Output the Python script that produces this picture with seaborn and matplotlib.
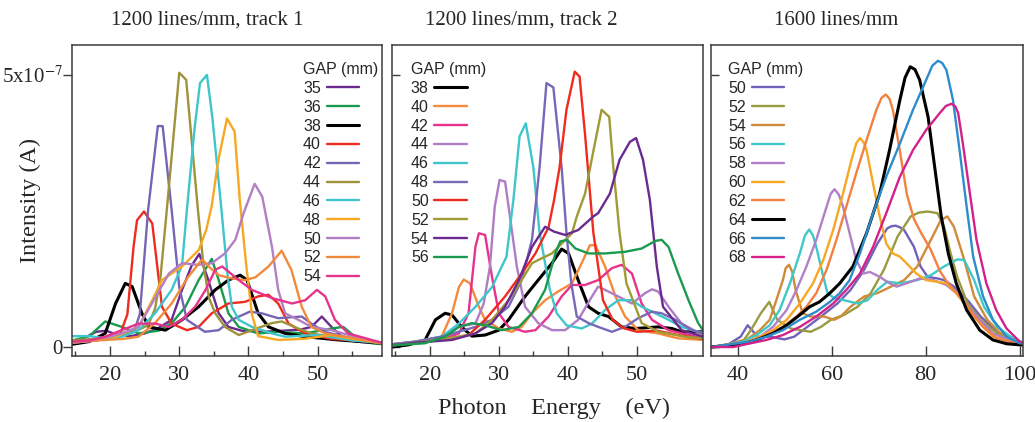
import matplotlib
matplotlib.use("Agg")
import matplotlib.pyplot as plt
import seaborn as sns

# ---------------- data (intensity in units of 1e-7 A, energy in eV) ----------------
# Panel 1: 1200 lines/mm, track 1
p1_gaps = ["35", "36", "38", "40", "42", "44", "46", "48", "50", "52", "54"]
p1_colors = ["#6b2a8f", "#1a9a4e", "#000000", "#ee2b1e", "#7665b5", "#a0923a",
             "#3fc6cc", "#f7a823", "#b27fc4", "#f28a3c", "#e6348c"]
p1_e35 = [14.5, 16, 18, 19.5, 21, 23, 25, 27, 28.9, 30.4, 31.8, 32.9, 34.2, 35.7, 37.1, 39, 42, 45, 47.5, 49.1, 50.6, 52, 53.5, 55.5, 59.5]
p1_i35 = [0.1, 0.15, 0.28, 0.3, 0.22, 0.2, 0.25, 0.35, 0.5, 1.05, 1.5, 1.71, 1.23, 0.62, 0.37, 0.3, 0.28, 0.3, 0.32, 0.37, 0.56, 0.37, 0.19, 0.1, 0.06]
p1_e36 = [14.5, 17, 19.3, 21.7, 24.1, 27, 29, 30.9, 32.8, 34.7, 35.7, 37.1, 38.6, 41.4, 44.3, 48.2, 52, 53.7, 55.4, 57.8, 59.5]
p1_i36 = [0.12, 0.2, 0.47, 0.37, 0.25, 0.3, 0.45, 0.74, 1.23, 1.62, 1.23, 0.62, 0.37, 0.25, 0.28, 0.25, 0.34, 0.37, 0.19, 0.07, 0.05]
p1_e38 = [14.5, 17, 19.3, 20.8, 22.2, 23.2, 24.6, 25.6, 28, 30.4, 32.8, 35.2, 37.1, 38.8, 39.8, 41.4, 42.9, 45.3, 48.2, 53, 59.5]
p1_i38 = [0.05, 0.1, 0.25, 0.8, 1.17, 1.11, 0.62, 0.37, 0.31, 0.5, 0.74, 1.05, 1.23, 1.32, 1.23, 0.62, 0.37, 0.25, 0.19, 0.13, 0.07]
p1_e40 = [14.5, 18, 21.5, 22.5, 23.4, 23.9, 24.9, 26.1, 27.5, 28.9, 31.1, 32.8, 34.7, 37.1, 39.5, 41.4, 42.9, 44.3, 45.8, 48.2, 52, 59.5]
p1_i40 = [0.08, 0.12, 0.25, 0.6, 1.85, 2.33, 2.49, 2.27, 0.74, 0.43, 0.31, 0.37, 0.62, 0.8, 0.83, 0.93, 0.96, 0.8, 0.43, 0.25, 0.15, 0.08]
p1_e42 = [14.5, 18, 21, 23.5, 24.3, 25.5, 26.9, 27.6, 28.9, 30.0, 31.1, 33.7, 35.7, 37.6, 40.2, 41.9, 44.3, 47.7, 49.1, 51, 53.9, 57.8, 59.5]
p1_i42 = [0.1, 0.15, 0.2, 0.3, 0.6, 2.52, 4.06, 4.06, 2.52, 1.1, 0.5, 0.28, 0.31, 0.5, 0.65, 0.62, 0.53, 0.56, 0.43, 0.28, 0.19, 0.1, 0.07]
p1_e44 = [14.5, 18, 23, 25.5, 26.5, 27.3, 28.2, 30.0, 31.0, 32.7, 33.5, 34.3, 35.2, 36.6, 38.6, 40.5, 43.4, 44.8, 47.2, 49.1, 52, 59.5]
p1_i44 = [0.12, 0.15, 0.25, 0.4, 0.7, 1.3, 2.52, 5.04, 4.91, 2.52, 1.5, 0.9, 0.62, 0.37, 0.22, 0.31, 0.44, 0.47, 0.34, 0.25, 0.19, 0.06]
p1_e46 = [14.5, 17, 20, 22, 24.1, 26.5, 28.9, 30.4, 31.1, 32.2, 33.0, 34.0, 34.8, 36.1, 37.0, 37.6, 38.6, 40.5, 43.4, 45.3, 50, 55, 59.5]
p1_i46 = [0.2, 0.2, 0.15, 0.2, 0.31, 0.62, 1.05, 1.5, 2.52, 4.0, 4.85, 5.0, 4.2, 2.52, 1.3, 0.74, 0.5, 0.37, 0.25, 0.19, 0.22, 0.12, 0.08]
p1_e48 = [14.5, 18, 21, 24.1, 26.1, 27.5, 30.4, 32.8, 33.9, 34.7, 35.6, 36.9, 38.0, 38.75, 39.7, 40.5, 41.4, 44.3, 48, 52, 55, 59.5]
p1_i48 = [0.08, 0.12, 0.2, 0.37, 0.86, 1.23, 1.48, 1.78, 2.15, 2.6, 3.4, 4.2, 3.96, 2.7, 1.48, 0.6, 0.2, 0.13, 0.15, 0.22, 0.15, 0.08]
p1_e50 = [14.5, 18, 21.7, 24.1, 26.5, 28.5, 30.4, 32.8, 34.7, 36.6, 38.1, 39.3, 40.9, 42.0, 43.4, 44.3, 45.3, 47.2, 49.1, 52, 55.4, 59.5]
p1_i50 = [0.08, 0.12, 0.25, 0.37, 0.9, 1.35, 1.54, 1.51, 1.54, 1.72, 1.97, 2.46, 3.0, 2.76, 1.84, 1.05, 0.62, 0.5, 0.37, 0.31, 0.19, 0.07]
p1_e52 = [14.5, 18, 22, 24.1, 26.5, 28.9, 31.3, 33.3, 34.5, 35.7, 37.6, 39.5, 41, 42.9, 44.8, 46.2, 47.7, 49.1, 51.1, 53.9, 57.8, 59.5]
p1_i52 = [0.1, 0.12, 0.15, 0.19, 0.44, 0.8, 1.29, 1.61, 1.45, 1.32, 1.26, 1.23, 1.28, 1.48, 1.77, 1.42, 0.74, 0.37, 0.25, 0.19, 0.1, 0.07]
p1_e54 = [14.5, 17, 19.3, 21.7, 24.1, 26.5, 28.5, 30.4, 32.3, 33.8, 35.2, 36.2, 38.6, 40.5, 43.4, 46.3, 48.2, 49.9, 51.1, 52.5, 54.4, 57.8, 59.5]
p1_i54 = [0.1, 0.12, 0.19, 0.31, 0.43, 0.43, 0.37, 0.5, 0.74, 1.05, 1.42, 1.48, 1.23, 1.05, 0.9, 0.8, 0.86, 1.05, 0.93, 0.5, 0.25, 0.13, 0.07]

# Panel 2: 1200 lines/mm, track 2
p2_gaps = ["38", "40", "42", "44", "46", "48", "50", "52", "54", "56"]
p2_colors = ["#000000", "#f58a3a", "#e8328c", "#b07cc6", "#3fc6cc", "#7868b8",
             "#ee2b1e", "#a09a35", "#6b2a8f", "#1a9a4e"]
p2_e38 = [14.5, 16.9, 19.3, 20.8, 22.2, 23.2, 24.6, 26.1, 28, 30, 31.4, 33.8, 35.7, 37.7, 39.1, 40.1, 41.5, 43, 44.4, 45.9, 47.8, 49.8, 53.1, 55.1, 56.5, 59.6]
p2_i38 = [0.0, 0.04, 0.13, 0.5, 0.62, 0.59, 0.37, 0.2, 0.22, 0.31, 0.5, 0.93, 1.23, 1.54, 1.8, 1.72, 1.23, 0.74, 0.62, 0.56, 0.37, 0.34, 0.37, 0.34, 0.28, 0.28]
p2_e40 = [14.5, 18, 21.7, 23.2, 24.2, 24.9, 25.8, 27.1, 28, 30, 31.9, 33.3, 34.8, 36.7, 38.6, 40.6, 42, 43.2, 44, 45.4, 46.9, 48.3, 50.2, 53.1, 56, 59.6]
p2_i40 = [0.05, 0.1, 0.19, 0.62, 1.1, 1.24, 1.17, 0.74, 0.5, 0.34, 0.28, 0.37, 0.62, 0.86, 1.02, 1.17, 1.54, 1.87, 1.87, 1.48, 0.93, 0.56, 0.31, 0.25, 0.16, 0.13]
p2_e42 = [14.5, 18, 22, 24.2, 25.6, 26.6, 27.1, 28, 29, 30, 31.4, 33.8, 35.3, 37.2, 39.1, 40.6, 42.5, 44.4, 46.4, 47.8, 49.3, 50.7, 52.2, 54.6, 59.6]
p2_i42 = [0.05, 0.08, 0.15, 0.25, 0.62, 1.84, 2.09, 2.06, 1.29, 0.62, 0.37, 0.28, 0.31, 0.56, 0.93, 1.14, 1.14, 1.23, 1.45, 1.51, 1.35, 0.8, 0.5, 0.31, 0.16]
p2_e44 = [14.5, 18, 21.7, 24.2, 26.6, 27.8, 28.7, 29.4, 30.1, 30.9, 31.6, 32.6, 33.8, 35.7, 37.7, 39.6, 41.5, 43.5, 44.4, 45.4, 47.3, 49.3, 51.2, 52.2, 53.1, 54.6, 56.5, 59.6]
p2_i44 = [0.05, 0.1, 0.19, 0.37, 0.43, 0.8, 1.48, 2.58, 3.07, 3.04, 2.4, 1.48, 0.74, 0.44, 0.31, 0.31, 0.5, 0.93, 1.11, 1.05, 0.93, 0.8, 0.99, 1.06, 1.02, 0.74, 0.43, 0.22]
p2_e46 = [14.5, 18, 21.7, 24.2, 26.6, 29, 31.1, 32.1, 33, 33.9, 35, 35.9, 37.4, 38.4, 39.8, 42, 43.5, 45.4, 47.3, 49.3, 50.7, 52.7, 54.6, 56.5, 58.9, 59.6]
p2_i46 = [0.05, 0.1, 0.19, 0.43, 0.74, 1.1, 1.66, 2.7, 3.87, 4.11, 3.3, 2.1, 1.05, 0.62, 0.4, 0.34, 0.43, 0.68, 0.86, 0.86, 0.74, 0.62, 0.5, 0.37, 0.28, 0.26]
p2_e48 = [14.5, 18, 21.7, 26.6, 29, 31.4, 33.3, 34.8, 35.9, 36.9, 37.9, 39.1, 39.8, 40.5, 41.3, 43, 44.4, 46.4, 48.3, 50.2, 52.2, 53.6, 55.6, 58, 59.6]
p2_i48 = [0.05, 0.1, 0.19, 0.37, 0.5, 0.74, 1.23, 1.97, 3.3, 4.85, 4.77, 3.3, 2.1, 1.17, 0.56, 0.44, 0.37, 0.28, 0.37, 0.53, 0.65, 0.62, 0.5, 0.31, 0.25]
p2_e50 = [14.5, 18, 21.7, 25.6, 28, 30.9, 33.3, 35.3, 37.2, 38.0, 38.8, 39.8, 41, 41.7, 42.5, 43.7, 45.1, 46.5, 48, 50, 53, 56, 59.6]
p2_i50 = [0.03, 0.08, 0.13, 0.22, 0.5, 0.93, 1.35, 1.72, 2.2, 2.7, 3.3, 4.36, 5.06, 4.97, 3.9, 2.1, 0.86, 0.5, 0.35, 0.28, 0.3, 0.22, 0.15]
p2_e52 = [14.5, 18, 24.2, 26.6, 29, 31.4, 33.3, 34.8, 36.2, 37.7, 39.1, 40.6, 41.3, 42.5, 43.7, 44.9, 46, 46.6, 47.5, 48.5, 50.7, 53.1, 57, 59.6]
p2_i52 = [0.03, 0.08, 0.19, 0.25, 0.5, 0.86, 1.23, 1.54, 1.63, 1.72, 1.9, 2.09, 2.4, 2.82, 3.6, 4.36, 4.23, 3.3, 2.1, 1.17, 0.44, 0.28, 0.19, 0.16]
p2_e54 = [14.5, 18, 23.2, 26.6, 29, 30.9, 32.9, 34.8, 36.7, 38, 39.6, 41.5, 43.7, 44.4, 46.1, 47.5, 49, 49.9, 50.9, 51.9, 52.9, 53.8, 56.5, 59.6]
p2_i54 = [0.03, 0.08, 0.13, 0.25, 0.44, 0.74, 1.23, 1.84, 2.21, 2.12, 2.06, 2.15, 2.4, 2.46, 2.82, 3.44, 3.77, 3.84, 3.44, 2.7, 1.48, 0.74, 0.31, 0.19]
p2_e56 = [14.5, 17, 19.3, 22.2, 24.2, 26.1, 28, 30.4, 32.9, 34.8, 36.7, 38.2, 38.9, 39.9, 41.1, 43, 45.4, 48.3, 50.7, 52.7, 53.6, 54.6, 56, 57.5, 58.9, 59.6]
p2_i56 = [0.03, 0.05, 0.07, 0.19, 0.37, 0.44, 0.4, 0.31, 0.37, 0.62, 1.05, 1.72, 1.94, 1.97, 1.81, 1.72, 1.72, 1.75, 1.81, 1.95, 1.97, 1.84, 1.35, 0.86, 0.44, 0.31]

# Panel 3: 1600 lines/mm
p3_gaps = ["50", "52", "54", "56", "58", "60", "62", "64", "66", "68"]
p3_colors = ["#7062b8", "#9a9a40", "#cf8a3a", "#40c8c8", "#b080c8", "#f7a823",
             "#f28040", "#000000", "#2d8ccc", "#d4218a"]
p3_e50 = [34.3, 38, 40.6, 42.1, 44.2, 47, 49.9, 52, 54.8, 57.7, 61.2, 64, 66.9, 69.7, 71.8, 72.7, 73.6, 74.5, 75.4, 77.5, 78.9, 80.4, 82.5, 83.9, 86, 88.9, 91.7, 95.2, 99.5, 100.7]
p3_i50 = [0.0, 0.05, 0.19, 0.4, 0.19, 0.19, 0.14, 0.19, 0.37, 0.56, 0.8, 1.05, 1.42, 1.9, 2.18, 2.22, 2.23, 2.2, 2.15, 1.84, 1.48, 1.29, 1.26, 1.23, 1.11, 0.86, 0.56, 0.28, 0.1, 0.08]
p3_e52 = [34.3, 38, 41.3, 42.8, 44.9, 46.7, 48.4, 51.3, 53.4, 55.5, 57.7, 59.8, 62.6, 65.5, 68.3, 71.1, 74, 76.8, 78.5, 80.4, 82.5, 83.9, 85.3, 86.7, 88.9, 91.7, 95.2, 99.5, 100.7]
p3_i52 = [0.0, 0.05, 0.13, 0.31, 0.62, 0.83, 0.5, 0.34, 0.31, 0.28, 0.37, 0.5, 0.59, 0.74, 0.99, 1.42, 2.03, 2.4, 2.47, 2.49, 2.46, 2.21, 1.72, 1.29, 0.8, 0.5, 0.25, 0.08, 0.06]
p3_e54 = [34.3, 38, 41.8, 44.7, 46.8, 48.2, 49.6, 50.2, 50.9, 51.6, 52.3, 53.8, 55.5, 58.4, 60.5, 61.9, 64, 66.9, 69.7, 72.6, 75.4, 78.2, 81.1, 83.2, 84.6, 86, 88.2, 90.3, 93.1, 95.9, 99.5, 100.7]
p3_i54 = [0.0, 0.05, 0.13, 0.31, 0.5, 0.86, 1.23, 1.45, 1.51, 1.38, 1.05, 0.62, 0.56, 0.56, 0.5, 0.56, 0.74, 0.93, 0.99, 1.11, 1.23, 1.48, 1.97, 2.33, 2.4, 2.21, 1.6, 0.93, 0.5, 0.25, 0.1, 0.08]
p3_e56 = [34.3, 38, 41.1, 44, 46.8, 48.9, 51.1, 53.2, 54.3, 55.2, 56.0, 56.7, 58.2, 59.1, 60.5, 62.6, 65.5, 67.6, 69.7, 71.8, 74.7, 78.2, 81.1, 83.9, 86.7, 88.2, 90.3, 92.4, 95.2, 98.1, 100.7]
p3_i56 = [0.0, 0.04, 0.1, 0.22, 0.4, 0.68, 1.17, 1.72, 2.05, 2.16, 2.05, 1.84, 1.29, 0.99, 0.9, 0.86, 0.8, 0.86, 1.05, 1.2, 1.17, 1.23, 1.32, 1.48, 1.61, 1.6, 1.23, 0.74, 0.37, 0.19, 0.08]
p3_e58 = [34.3, 38, 41.8, 44.7, 47.5, 50.4, 52.5, 54.6, 56.7, 58.9, 59.8, 60.6, 61.5, 62.4, 63.8, 65.2, 66.7, 68.1, 70.2, 72.3, 73.8, 75.9, 78.7, 81.6, 84.4, 86.5, 88.7, 91.5, 94.3, 100, 100.7]
p3_i58 = [0.0, 0.04, 0.08, 0.19, 0.37, 0.68, 1.05, 1.48, 1.97, 2.58, 2.82, 2.9, 2.8, 2.58, 2.09, 1.6, 1.35, 1.38, 1.29, 1.17, 1.11, 1.17, 1.26, 1.23, 1.14, 0.99, 0.77, 0.5, 0.25, 0.04, 0.03]
p3_e60 = [34.3, 38, 41.1, 44.7, 47.5, 50.4, 53.2, 56, 58.2, 60.3, 62.4, 64.2, 65.2, 66, 66.8, 67.4, 68.8, 70.2, 71.6, 73, 74.5, 75.9, 78, 80.1, 82.3, 84.4, 86.5, 88.7, 91.5, 94.3, 100, 100.7]
p3_i60 = [0.0, 0.03, 0.07, 0.19, 0.31, 0.5, 0.8, 1.17, 1.6, 2.15, 2.82, 3.44, 3.74, 3.84, 3.76, 3.62, 3.0, 2.4, 1.9, 1.72, 1.66, 1.54, 1.35, 1.23, 1.2, 1.17, 0.99, 0.74, 0.44, 0.19, 0.04, 0.03]
p3_e62 = [34.3, 38, 42.6, 46.1, 49.6, 52.5, 54.6, 56.7, 58.9, 61, 63.1, 65.2, 67.4, 69.5, 70.6, 71.5, 72.3, 73, 74.5, 76, 77.5, 79, 81, 83, 84.5, 86, 88, 90, 92.2, 95, 100, 100.7]
p3_i62 = [0.0, 0.03, 0.1, 0.22, 0.37, 0.56, 0.74, 0.99, 1.42, 1.97, 2.58, 3.19, 3.8, 4.36, 4.58, 4.64, 4.56, 4.36, 3.6, 2.8, 2.35, 2.1, 1.8, 1.4, 1.2, 1.05, 0.85, 0.6, 0.37, 0.17, 0.04, 0.03]
p3_e64 = [34.3, 40.4, 44, 47.5, 50.4, 53.2, 55.3, 57.4, 59.6, 61.7, 64.5, 67.4, 70.2, 72.3, 74.5, 75.6, 76.7, 77.7, 78.7, 80.5, 81.9, 83.3, 84.8, 86.5, 88.7, 91.5, 94.3, 97.2, 100, 100.7]
p3_i64 = [0.0, 0.04, 0.13, 0.25, 0.4, 0.59, 0.74, 0.83, 0.99, 1.17, 1.48, 2.09, 2.82, 3.62, 4.54, 4.95, 5.15, 5.1, 4.91, 4.23, 3.31, 2.4, 1.72, 1.17, 0.68, 0.31, 0.13, 0.06, 0.04, 0.04]
p3_e66 = [34.3, 42.6, 46.1, 49.6, 53.2, 56.7, 59.6, 61.7, 63.8, 66, 68.8, 71.6, 74.5, 77.3, 80.1, 81.4, 82.6, 83.5, 84.4, 85.8, 87.2, 88.7, 90.1, 92.2, 94.3, 97.2, 100, 100.7]
p3_i66 = [0.0, 0.1, 0.19, 0.31, 0.5, 0.65, 0.83, 0.99, 1.23, 1.72, 2.46, 3.13, 3.74, 4.36, 4.91, 5.17, 5.26, 5.22, 5.09, 4.54, 3.62, 2.58, 1.66, 0.93, 0.5, 0.19, 0.07, 0.06]
p3_e68 = [34.3, 39, 46.1, 49.6, 53.2, 56.7, 60.3, 63.1, 66, 68.8, 71.6, 74.5, 77.3, 80.1, 83, 84.3, 85.5, 86.3, 86.9, 87.9, 89.4, 90.8, 92.9, 95, 97.2, 100, 100.7]
p3_i68 = [0.0, 0.0, 0.13, 0.22, 0.37, 0.56, 0.8, 1.05, 1.35, 1.84, 2.46, 3.13, 3.62, 3.99, 4.3, 4.43, 4.47, 4.42, 4.3, 3.74, 2.82, 1.97, 1.17, 0.68, 0.34, 0.1, 0.08]

titles = ["1200 lines/mm, track 1", "1200 lines/mm, track 2", "1600 lines/mm"]

p1_curves = [(p1_e35, p1_i35), (p1_e36, p1_i36), (p1_e38, p1_i38), (p1_e40, p1_i40),
             (p1_e42, p1_i42), (p1_e44, p1_i44), (p1_e46, p1_i46), (p1_e48, p1_i48),
             (p1_e50, p1_i50), (p1_e52, p1_i52), (p1_e54, p1_i54)]
p2_curves = [(p2_e38, p2_i38), (p2_e40, p2_i40), (p2_e42, p2_i42), (p2_e44, p2_i44),
             (p2_e46, p2_i46), (p2_e48, p2_i48), (p2_e50, p2_i50), (p2_e52, p2_i52),
             (p2_e54, p2_i54), (p2_e56, p2_i56)]
p3_curves = [(p3_e50, p3_i50), (p3_e52, p3_i52), (p3_e54, p3_i54), (p3_e56, p3_i56),
             (p3_e58, p3_i58), (p3_e60, p3_i60), (p3_e62, p3_i62), (p3_e64, p3_i64),
             (p3_e66, p3_i66), (p3_e68, p3_i68)]

# ---------------- style ----------------
sns.set_style("white")
plt.rcParams['font.family'] = ['Liberation Serif', 'DejaVu Serif']
plt.rcParams['mathtext.fontset'] = 'stix'

W, H = 1035, 422
fig = plt.figure(figsize=(W / 100, H / 100), dpi=100)

def box(l, r, t, b):
    return [l / W, 1 - b / H, (r - l) / W, (b - t) / H]

axes = [fig.add_axes(box(72, 382, 45, 356)),
        fig.add_axes(box(392, 703, 45, 356)),
        fig.add_axes(box(711, 1023, 45, 356))]

panels = [(p1_gaps, p1_colors, p1_curves), (p2_gaps, p2_colors, p2_curves), (p3_gaps, p3_colors, p3_curves)]
xlims = [(14.5, 59.3), (14.5, 59.6), (34.3, 100.7)]
title_x = [0.437, 0.415, 0.40]
leg_x = [0.745, 0.060, 0.055]
spine_col = "#3c3c3c"
sans = {'family': 'Liberation Sans', 'size': 11.5}

for k, (ax, (gaps, cols, curves)) in enumerate(zip(axes, panels)):
    for g, c, (e, i) in zip(gaps, cols, curves):
        lw = 2.2 if c == "#000000" else 1.7
        sns.lineplot(x=e, y=i, color=c, lw=lw, ax=ax, label=g, sort=False, estimator=None)
    ax.set_xlim(*xlims[k])
    ax.set_ylim(-0.165, 5.55)
    ax.set_xlabel("")
    ax.set_ylabel("")
    for sp in ax.spines.values():
        sp.set_visible(True)
        sp.set_color(spine_col)
        sp.set_linewidth(1.1)
    if k < 2:
        ax.set_xticks([20, 30, 40, 50])
        ax.set_xticks([15, 25, 35, 45, 55], minor=True)
    else:
        ax.set_xticks([40, 60, 80, 100])
    ax.tick_params(axis='x', which='major', bottom=True, top=False, direction='in',
                   length=7, width=1, color=spine_col, labelsize=16, pad=7)
    ax.tick_params(axis='x', which='minor', bottom=True, top=False, direction='in',
                   length=3.5, width=1, color=spine_col)
    ax.set_yticks([0, 5])
    if k == 0:
        ax.set_yticklabels(["0", "5x10$^{-7}$"])
        ax.tick_params(axis='y', left=True, right=False, direction='out', length=6.5,
                       width=1, color=spine_col, labelsize=15, pad=0.5)
    else:
        ax.set_yticklabels(["", ""])
        ax.tick_params(axis='y', left=True, right=False, direction='in', length=6,
                       width=1, color=spine_col)
    ax.text(title_x[k], 1.08, titles[k], transform=ax.transAxes, ha='center', va='center', fontsize=15)
    ax.legend(loc='upper left', bbox_to_anchor=(leg_x[k], 0.945), frameon=False,
              markerfirst=False, title="GAP (mm)", prop=sans, title_fontproperties=sans,
              handlelength=2.05, handletextpad=0.35, labelspacing=0.24, borderpad=0,
              borderaxespad=0, alignment='left')

fig.text(30 / W, 1 - 200 / H, "Intensity (A)", rotation=90, fontsize=17.5, ha='center', va='center')
fig.text(554 / W, 1 - 408 / H, "Photon    Energy    (eV)", fontsize=17.5, ha='center', va='center')

fig.savefig("out.png", dpi=100)
